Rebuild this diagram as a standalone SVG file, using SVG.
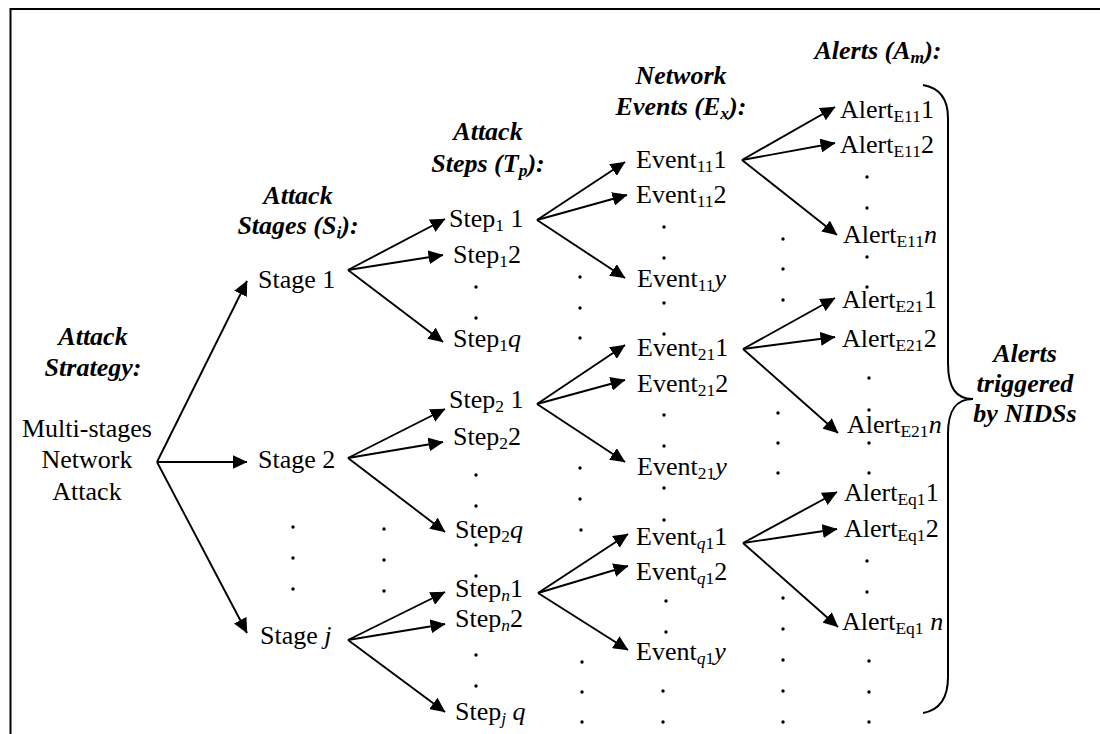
<svg xmlns="http://www.w3.org/2000/svg" width="1100" height="734" viewBox="0 0 1100 734">
  <style>
    text { font-family: "Liberation Serif", "Times New Roman", serif; font-size: 26px; fill: #000; }
    .h { font-weight: bold; font-style: italic; text-anchor: middle; }
    .c { text-anchor: middle; }
    .i { font-style: italic; }
    .sub { font-size: 17.5px; }
    .edge { stroke: #000; stroke-width: 1.9; fill: none; marker-end: url(#head); }
    .dot { fill: #000; }
  </style>
  <defs>
    <marker id="head" viewBox="0 0 15 14" markerWidth="15" markerHeight="14" refX="14.5" refY="7" orient="auto" markerUnits="userSpaceOnUse">
      <path d="M0,0 L15,7 L0,14 Z" fill="#000"/>
    </marker>
    <circle id="d" r="1.7" class="dot"/>
  </defs>

  <rect width="1100" height="734" fill="#fff"/>

  <!-- frame -->
  <path d="M10.5,734 V9 H1100" fill="none" stroke="#000" stroke-width="2"/>

  <!-- column headings -->
  <g id="headings">
    <text class="h" x="93" y="345">Attack</text>
    <text class="h" x="93" y="376">Strategy:</text>
    <text class="h" x="298" y="204">Attack</text>
    <text class="h" x="298" y="234">Stages (S<tspan class="sub" dy="4">i</tspan><tspan dy="-4">):</tspan></text>
    <text class="h" x="488" y="140">Attack</text>
    <text class="h" x="488" y="172">Steps (T<tspan class="sub" dy="4">p</tspan><tspan dy="-4">):</tspan></text>
    <text class="h" x="681" y="84">Network</text>
    <text class="h" x="681" y="115">Events (E<tspan class="sub" dy="4">x</tspan><tspan dy="-4">):</tspan></text>
    <text class="h" x="878" y="59">Alerts (A<tspan class="sub" dy="4">m</tspan><tspan dy="-4">):</tspan></text>
  </g>

  <!-- root -->
  <g id="root">
    <text class="c" x="87" y="437">Multi-stages</text>
    <text class="c" x="87" y="468">Network</text>
    <text class="c" x="87" y="500">Attack</text>
  </g>

  <!-- stages -->
  <g id="stage1"><text x="258" y="288">Stage 1</text></g>
  <g id="stage2"><text x="258" y="468">Stage 2</text></g>
  <g id="stagej"><text x="260" y="644">Stage <tspan class="i">j</tspan></text></g>

  <!-- steps -->
  <g id="step1-1"><text x="449" y="227">Step<tspan class="sub" dy="4">1</tspan><tspan dy="-4"> 1</tspan></text></g>
  <g id="step1-2"><text x="453" y="263">Step<tspan class="sub" dy="4">1</tspan><tspan dy="-4">2</tspan></text></g>
  <g id="step1-q"><text x="453" y="347">Step<tspan class="sub" dy="4">1</tspan><tspan class="i" dy="-4">q</tspan></text></g>
  <g id="step2-1"><text x="449" y="408">Step<tspan class="sub" dy="4">2</tspan><tspan dy="-4"> 1</tspan></text></g>
  <g id="step2-2"><text x="453" y="445">Step<tspan class="sub" dy="4">2</tspan><tspan dy="-4">2</tspan></text></g>
  <g id="step2-q"><text x="455" y="538">Step<tspan class="sub" dy="4">2</tspan><tspan class="i" dy="-4">q</tspan></text></g>
  <g id="stepn-1"><text x="455" y="597">Step<tspan class="sub i" dy="4">n</tspan><tspan dy="-4">1</tspan></text></g>
  <g id="stepn-2"><text x="455" y="627">Step<tspan class="sub i" dy="4">n</tspan><tspan dy="-4">2</tspan></text></g>
  <g id="stepj-q"><text x="455" y="720">Step<tspan class="sub i" dy="4">j</tspan><tspan class="i" dy="-4"> q</tspan></text></g>

  <!-- network events -->
  <g id="event11-1"><text x="636" y="168">Event<tspan class="sub" dy="4">11</tspan><tspan dy="-4">1</tspan></text></g>
  <g id="event11-2"><text x="636" y="203">Event<tspan class="sub" dy="4">11</tspan><tspan dy="-4">2</tspan></text></g>
  <g id="event11-y"><text x="637" y="287">Event<tspan class="sub" dy="4">11</tspan><tspan class="i" dy="-4">y</tspan></text></g>
  <g id="event21-1"><text x="637" y="356">Event<tspan class="sub" dy="4">21</tspan><tspan dy="-4">1</tspan></text></g>
  <g id="event21-2"><text x="637" y="392">Event<tspan class="sub" dy="4">21</tspan><tspan dy="-4">2</tspan></text></g>
  <g id="event21-y"><text x="637" y="475">Event<tspan class="sub" dy="4">21</tspan><tspan class="i" dy="-4">y</tspan></text></g>
  <g id="eventq1-1"><text x="636" y="545">Event<tspan class="sub i" dy="4">q</tspan><tspan class="sub">1</tspan><tspan dy="-4">1</tspan></text></g>
  <g id="eventq1-2"><text x="636" y="580">Event<tspan class="sub i" dy="4">q</tspan><tspan class="sub">1</tspan><tspan dy="-4">2</tspan></text></g>
  <g id="eventq1-y"><text x="636" y="660">Event<tspan class="sub i" dy="4">q</tspan><tspan class="sub">1</tspan><tspan class="i" dy="-4">y</tspan></text></g>

  <!-- alerts -->
  <g id="alertE11-1"><text x="840" y="118">Alert<tspan class="sub" dy="4">E11</tspan><tspan dy="-4">1</tspan></text></g>
  <g id="alertE11-2"><text x="840" y="153">Alert<tspan class="sub" dy="4">E11</tspan><tspan dy="-4">2</tspan></text></g>
  <g id="alertE11-n"><text x="843" y="243">Alert<tspan class="sub" dy="4">E11</tspan><tspan class="i" dy="-4">n</tspan></text></g>
  <g id="alertE21-1"><text x="842" y="308">Alert<tspan class="sub" dy="4">E21</tspan><tspan dy="-4">1</tspan></text></g>
  <g id="alertE21-2"><text x="842" y="347">Alert<tspan class="sub" dy="4">E21</tspan><tspan dy="-4">2</tspan></text></g>
  <g id="alertE21-n"><text x="847" y="433">Alert<tspan class="sub" dy="4">E21</tspan><tspan class="i" dy="-4">n</tspan></text></g>
  <g id="alertEq1-1"><text x="844" y="501">Alert<tspan class="sub" dy="4">Eq1</tspan><tspan dy="-4">1</tspan></text></g>
  <g id="alertEq1-2"><text x="844" y="537">Alert<tspan class="sub" dy="4">Eq1</tspan><tspan dy="-4">2</tspan></text></g>
  <g id="alertEq1-n"><text x="842" y="630">Alert<tspan class="sub" dy="4">Eq1</tspan><tspan class="i" dy="-4"> n</tspan></text></g>

  <!-- brace grouping the alerts -->
  <g id="nids">
    <path d="M923,85 C940,88 948,100 948,118 V363 C948,388 956,399 973,399 C956,399 948,410 948,434 V677 C948,698 940,710 923,713" fill="none" stroke="#000" stroke-width="2"/>
    <text class="h" x="1025" y="362">Alerts</text>
    <text class="h" x="1025" y="392">triggered</text>
    <text class="h" x="1025" y="422">by NIDSs</text>
  </g>

  <!-- connectors -->
  <g id="connectors">
    <path class="edge" d="M157,462 L247,281"/>
    <path class="edge" d="M157,462 L247,462"/>
    <path class="edge" d="M157,462 L247,633"/>

    <path class="edge" d="M348,270 L445,219"/>
    <path class="edge" d="M348,270 L443,255"/>
    <path class="edge" d="M348,270 L443,342"/>

    <path class="edge" d="M348,458 L445,409"/>
    <path class="edge" d="M348,458 L443,442"/>
    <path class="edge" d="M348,458 L445,532"/>

    <path class="edge" d="M348,640 L445,592"/>
    <path class="edge" d="M348,640 L445,624"/>
    <path class="edge" d="M348,640 L445,712"/>

    <path class="edge" d="M537,220 L625,162"/>
    <path class="edge" d="M537,220 L627,195"/>
    <path class="edge" d="M537,220 L625,278"/>

    <path class="edge" d="M537,404 L625,345"/>
    <path class="edge" d="M537,404 L625,380"/>
    <path class="edge" d="M537,404 L625,462"/>

    <path class="edge" d="M538,593 L628,534"/>
    <path class="edge" d="M538,593 L628,566"/>
    <path class="edge" d="M538,593 L628,650"/>

    <path class="edge" d="M742,160 L835,107"/>
    <path class="edge" d="M742,160 L835,143"/>
    <path class="edge" d="M742,160 L837,235"/>

    <path class="edge" d="M743,349 L835,298"/>
    <path class="edge" d="M743,349 L835,337"/>
    <path class="edge" d="M743,349 L838,433"/>

    <path class="edge" d="M743,543 L837,492"/>
    <path class="edge" d="M743,543 L837,529"/>
    <path class="edge" d="M743,543 L838,627"/>
  </g>

  <!-- ellipsis dots -->
  <g id="ellipses">
    <use href="#d" x="293" y="527"/><use href="#d" x="293" y="558"/><use href="#d" x="293" y="589"/>
    <use href="#d" x="384" y="529"/><use href="#d" x="384" y="560"/><use href="#d" x="384" y="591"/>

    <use href="#d" x="476" y="287"/><use href="#d" x="476" y="318"/>
    <use href="#d" x="476" y="475"/><use href="#d" x="476" y="506"/>
    <use href="#d" x="476" y="545"/><use href="#d" x="476" y="576"/>
    <use href="#d" x="476" y="655"/><use href="#d" x="476" y="686"/>

    <use href="#d" x="580" y="277"/><use href="#d" x="580" y="308"/><use href="#d" x="580" y="338"/>
    <use href="#d" x="580" y="468"/><use href="#d" x="580" y="499"/><use href="#d" x="581" y="530"/>
    <use href="#d" x="582" y="662"/><use href="#d" x="582" y="692"/><use href="#d" x="582" y="722"/>

    <use href="#d" x="664" y="227"/><use href="#d" x="664" y="258"/>
    <use href="#d" x="664" y="303"/><use href="#d" x="664" y="334"/>
    <use href="#d" x="664" y="415"/><use href="#d" x="664" y="446"/>
    <use href="#d" x="664" y="488"/><use href="#d" x="664" y="520"/>
    <use href="#d" x="666" y="601"/><use href="#d" x="666" y="632"/>
    <use href="#d" x="663" y="691"/><use href="#d" x="663" y="722"/>

    <use href="#d" x="783" y="239"/><use href="#d" x="783" y="269"/><use href="#d" x="783" y="300"/>
    <use href="#d" x="778" y="413"/><use href="#d" x="778" y="443"/><use href="#d" x="778" y="473"/>
    <use href="#d" x="783" y="598"/><use href="#d" x="783" y="629"/><use href="#d" x="783" y="660"/>
    <use href="#d" x="783" y="691"/><use href="#d" x="783" y="722"/>

    <use href="#d" x="867" y="177"/><use href="#d" x="867" y="208"/>
    <use href="#d" x="867" y="257"/><use href="#d" x="867" y="287"/>
    <use href="#d" x="869" y="378"/><use href="#d" x="869" y="410"/>
    <use href="#d" x="869" y="443"/><use href="#d" x="869" y="473"/>
    <use href="#d" x="867" y="561"/><use href="#d" x="867" y="592"/>
    <use href="#d" x="869" y="661"/><use href="#d" x="869" y="692"/><use href="#d" x="869" y="722"/>
  </g>
</svg>
